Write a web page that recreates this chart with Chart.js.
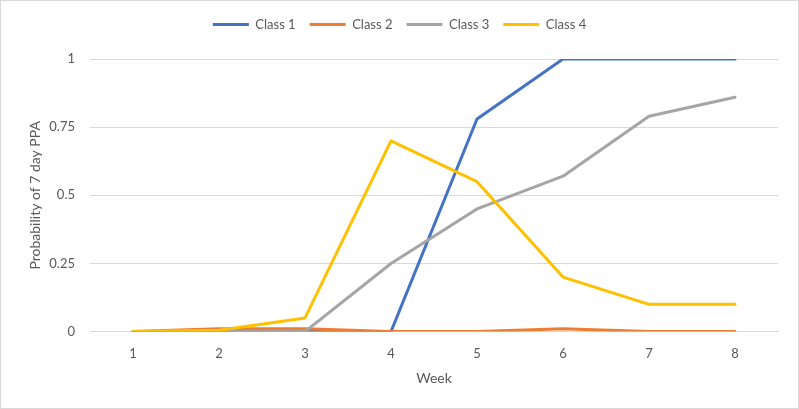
<!DOCTYPE html>
<html>
<head>
<meta charset="utf-8">
<script src="https://cdn.jsdelivr.net/npm/chart.js@4"></script>
<style>
  body { margin: 0; background: #fff; }
  #wrap { width: 799px; height: 409px; box-sizing: border-box; border: 1px solid #D9D9D9; }
</style>
</head>
<body>
<div id="wrap"><canvas id="chart" width="797" height="407"></canvas></div>
<script>
const weeks = ['1', '2', '3', '4', '5', '6', '7', '8'];
const class1 = [0, 0, 0, 0, 0.78, 1, 1, 1];
const class2 = [0, 0.01, 0.01, 0, 0, 0.01, 0, 0];
const class3 = [0, 0, 0, 0.25, 0.45, 0.57, 0.79, 0.86];
const class4 = [0, 0.005, 0.05, 0.70, 0.55, 0.20, 0.10, 0.10];
const yTickLabels = ['0', '0.25', '0.5', '0.75', '1'];

const textColor = '#595959';
const gridColor = '#D9D9D9';
const font = 'Lato, "Open Sans", sans-serif';

function series(label, data, color, order) {
    return {
        label, data, order,
        borderColor: color,
        backgroundColor: color,
        borderWidth: 3,
        pointRadius: 0,
        tension: 0,
        borderCapStyle: 'round',
        borderJoinStyle: 'round'
    };
}

// extra room under the legend, like the Excel original
const legendGap = {
    id: 'legendGap',
    beforeInit(chart) {
        const fit = chart.legend.fit;
        chart.legend.fit = function () {
            fit.call(this);
            this.height += 18;
        };
    }
};

new Chart(document.getElementById('chart'), {
    type: 'line',
    data: {
        labels: weeks,
        datasets: [
            series('Class 1', class1, '#4472C4', 3),
            series('Class 2', class2, '#ED7D31', 2),
            series('Class 3', class3, '#A5A5A5', 1),
            series('Class 4', class4, '#FFC000', 0)
        ]
    },
    plugins: [legendGap],
    options: {
        responsive: false,
        animation: false,
        layout: { padding: { top: 3, right: 20, left: 20, bottom: 21 } },
        plugins: {
            tooltip: { enabled: false },
            legend: {
                position: 'top',
                labels: {
                    usePointStyle: true,
                    pointStyle: 'line',
                    pointStyleWidth: 36,
                    boxHeight: 12,
                    padding: 14,
                    color: textColor,
                    font: { family: font, size: 13 },
                    sort: (a, b) => a.datasetIndex - b.datasetIndex
                }
            }
        },
        scales: {
            x: {
                offset: true,
                grid: { display: false, drawTicks: false },
                border: { display: true, color: gridColor },
                ticks: { color: textColor, font: { family: font, size: 13 }, padding: 14 },
                title: { display: true, text: 'Week', color: textColor, font: { family: font, size: 14 }, padding: { top: -5, bottom: 0 } }
            },
            y: {
                min: 0,
                max: 1,
                afterFit: (scale) => { scale.width = 69; },
                grid: { color: gridColor, drawTicks: false },
                border: { display: false },
                ticks: {
                    stepSize: 0.25,
                    color: textColor,
                    font: { family: font, size: 13 },
                    padding: 15,
                    callback: (v, i) => yTickLabels[i]
                },
                title: { display: true, text: 'Probability of 7 day PPA', color: textColor, font: { family: font, size: 14 }, padding: { top: 6, bottom: 0 } }
            }
        }
    }
});
</script>
</body>
</html>
